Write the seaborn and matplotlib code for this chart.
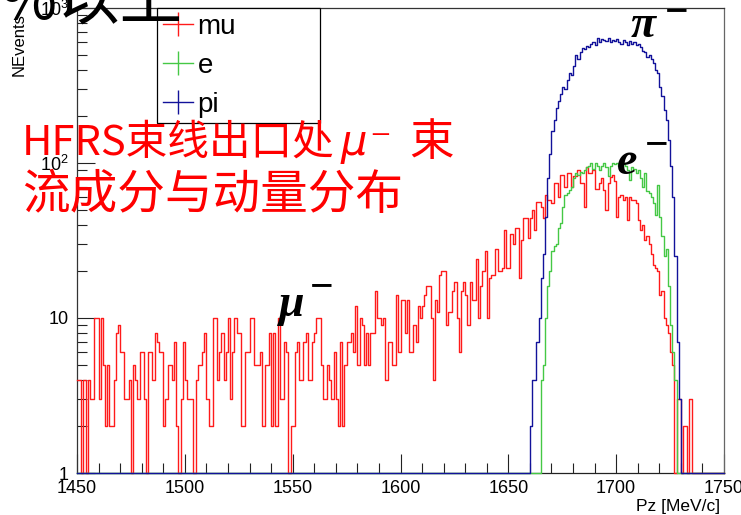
import numpy as np
import pandas as pd
import matplotlib
matplotlib.use("Agg")
import matplotlib.pyplot as plt
from matplotlib.lines import Line2D
from matplotlib.ticker import MultipleLocator, FixedLocator, FuncFormatter, LogLocator, NullFormatter
import seaborn as sns

# ---- binning: 1 MeV/c bins over the Pz window ----
pz_min, pz_max, bin_width = 1450, 1750, 1

# mu- counts per bin, 1450 .. 1749 MeV/c (ten bins per row)
mu_counts = [
    4, 4, 0, 4, 0, 4, 3, 3, 10, 10,
    3, 10, 5, 2, 5, 2, 2, 4, 8, 9,
    6, 6, 3, 3, 4, 0, 5, 4, 3, 6,
    6, 3, 0, 6, 6, 4, 8, 7, 6, 6,
    2, 3, 5, 5, 4, 7, 2, 0, 3, 7,
    4, 3, 3, 3, 0, 4, 5, 5, 6, 8,
    3, 2, 2, 10, 10, 4, 6, 8, 4, 6,
    10, 3, 6, 10, 8, 8, 2, 2, 6, 6,
    10, 10, 5, 5, 5, 6, 2, 5, 5, 8,
    2, 8, 2, 10, 3, 3, 7, 6, 0, 2,
    2, 6, 7, 4, 4, 7, 8, 4, 4, 7,
    8, 10, 10, 5, 3, 3, 5, 4, 3, 6,
    3, 2, 7, 2, 5, 7, 7, 8, 6, 12,
    5, 10, 9, 5, 8, 5, 8, 8, 15, 10,
    10, 9, 10, 4, 7, 7, 5, 5, 14, 6,
    13, 13, 8, 13, 6, 6, 9, 7, 12, 10,
    12, 14, 16, 16, 10, 4, 13, 11, 19, 20,
    20, 9, 11, 11, 15, 17, 10, 6, 15, 17,
    14, 9, 17, 13, 13, 24, 10, 16, 20, 27,
    10, 18, 19, 19, 28, 20, 20, 21, 37, 21,
    21, 35, 30, 38, 38, 18, 32, 44, 44, 33,
    44, 50, 37, 56, 56, 52, 44, 62, 58, 58,
    55, 74, 74, 60, 84, 84, 70, 86, 86, 70,
    82, 82, 90, 74, 74, 52, 94, 86, 86, 90,
    68, 68, 74, 80, 67, 50, 74, 81, 84, 76,
    45, 60, 62, 58, 60, 43, 60, 58, 58, 55,
    43, 37, 40, 32, 34, 30, 26, 22, 21, 20,
    14, 15, 10, 9, 8, 6, 5, 0, 3, 3,
    0, 2, 2, 0, 3, 0, 0, 0, 0, 0,
    0, 0, 0, 0, 0, 0, 0, 0, 0, 0,
]

# e- counts, starting at 1665 MeV/c
e_first_bin = 1665
e_counts = [
    4, 5, 10, 16, 20, 27, 29, 30, 38, 41,
    52, 62, 64, 67, 70, 80, 86, 84, 88, 86,
    90, 94, 96, 100, 92, 100, 96, 90, 96, 100,
    94, 82, 96, 100, 98, 100, 95, 92, 100, 96,
    90, 78, 94, 92, 86, 90, 80, 70, 86, 66,
    64, 60, 55, 46, 72, 45, 34, 25, 28, 16,
    9, 6, 4,
]

# pi- counts, starting at 1660 MeV/c
pi_first_bin = 1660
pi_counts = [
    2, 4, 4, 7, 10, 18, 26, 45, 80, 115,
    160, 190, 225, 250, 280, 310, 300, 345, 380, 370,
    420, 495, 470, 520, 550, 540, 570, 560, 590, 600,
    580, 640, 600, 630, 620, 610, 640, 600, 620, 610,
    630, 600, 590, 620, 600, 580, 610, 590, 600, 580,
    590, 560, 530, 520, 480, 500, 470, 440, 400, 380,
    310, 270, 220, 190, 140, 95, 60, 25, 7, 3,
]

series_names = ["mu", "e", "pi"]
series_colors = ["#ff1a1a", "#45c845", "#12129a"]

x_ticks = [1450, 1500, 1550, 1600, 1650, 1700, 1750]
y_ticks = [1, 10, 100, 1000]
y_tick_labels = ["1", "10", r"$\mathregular{10^{2}}$", r"$\mathregular{10^{3}}$"]

CJK = ["Noto Sans CJK SC", "DejaVu Sans"]
SANS = ["Liberation Sans", "DejaVu Sans"]
SERIF = ["Liberation Serif", "DejaVu Serif"]

# ---- figure ----
W, H = 741, 515
fig = plt.figure(figsize=(W / 100, H / 100), dpi=100)
fig.patch.set_facecolor("white")


def fx(px):
    return px / W


def fy(py):
    return 1 - py / H


ax = fig.add_axes([fx(77), fy(473), fx(724) - fx(77), fy(8) - fy(473)])
ax.set_facecolor("white")

edges = [float(v) for v in np.arange(pz_min, pz_max + bin_width, bin_width)]
centers = np.array(edges[:-1]) + bin_width / 2


def spread(first, values):
    arr = np.zeros(len(centers))
    i = int((first - pz_min) / bin_width)
    arr[i:i + len(values)] = values
    return arr


hists = [np.array(mu_counts, float), spread(e_first_bin, e_counts), spread(pi_first_bin, pi_counts)]

ax.set_yscale("log")
for counts, color, z in zip(hists, series_colors, [3, 4, 5]):
    # empty bins sit on the axis floor, as the log axis cannot show zero
    df = pd.DataFrame({"pz": centers, "n": np.maximum(counts, 1)})
    sns.histplot(data=df, x="pz", weights="n", bins=edges,
                 element="step", fill=False, color=color, linewidth=1.0,
                 ax=ax, clip_on=False, zorder=z)

ax.set_xlim(pz_min, pz_max)
ax.set_ylim(1, 1000)
ax.set_xlabel("")
ax.set_ylabel("")

# ---- ticks ----
ax.xaxis.set_major_locator(FixedLocator(x_ticks))
ax.xaxis.set_minor_locator(MultipleLocator(10))
ax.yaxis.set_major_locator(FixedLocator(y_ticks))
ax.yaxis.set_major_formatter(FuncFormatter(lambda v, p: dict(zip(y_ticks, y_tick_labels)).get(int(round(v)), "")))
ax.yaxis.set_minor_locator(LogLocator(base=10, subs=np.arange(2, 10)))
ax.yaxis.set_minor_formatter(NullFormatter())
ax.tick_params(axis="both", which="both", direction="in", color="#222222", width=0.8,
               top=False, right=False)
ax.tick_params(axis="x", which="major", length=13.5, pad=5, labelsize=13)
ax.tick_params(axis="x", which="minor", length=7)
ax.tick_params(axis="y", which="major", length=13, pad=6, labelsize=13)
ax.tick_params(axis="y", which="minor", length=7)
for lab in ax.get_xticklabels() + ax.get_yticklabels():
    lab.set_fontfamily(SANS)

for side, col in [("left", "#333333"), ("top", "#333333"), ("right", "#666666"), ("bottom", "#222222")]:
    ax.spines[side].set_color(col)
    ax.spines[side].set_linewidth(0.9)

# axis titles
fig.text(fx(720), fy(506), "Pz [MeV/c]", ha="right", va="center", fontsize=12.5, family=SANS)
fig.text(fx(19), fy(13), "NEvents", ha="center", va="top", rotation=90, fontsize=12, family=SANS)

# ---- legend ----
handles = [Line2D([], [], color=c, lw=1.0, marker="|", markersize=17, markeredgewidth=1.0)
           for c in series_colors]
leg = ax.legend(handles, series_names, loc="upper left",
                bbox_to_anchor=(fx(157), fy(123), fx(320) - fx(157), fy(8) - fy(123)),
                bbox_transform=fig.transFigure, mode="expand", borderaxespad=0,
                prop={"family": SANS, "size": 20}, frameon=True, fancybox=False,
                framealpha=1, edgecolor="black", handlelength=1.08, handletextpad=0.18,
                borderpad=0.2, labelspacing=0.47, numpoints=1)
leg.get_frame().set_linewidth(0.9)
leg.set_zorder(10)

# ---- annotations ----
renderer = fig.canvas.get_renderer()


def chain(parts, x0, baseline, color):
    x = x0
    for s, kw, dx in parts:
        x += dx
        t = fig.text(fx(x), fy(baseline), s, ha="left", va="baseline", color=color, **kw)
        x = t.get_window_extent(renderer).x1


red = "#ff0000"
chain([("HFRS束线出口处", dict(family=CJK, fontsize=30), 0),
       ("μ", dict(family=["DejaVu Sans"], style="italic", fontsize=30), 6),
       ("⁻", dict(family=["DejaVu Sans"], fontsize=30), 2),
       ("束", dict(family=CJK, fontsize=32), 18)], 22, 155, red)
fig.text(fx(22), fy(209), "流成分与动量分布", ha="left", va="baseline",
         color=red, family=CJK, fontsize=34.3)

# heading running off the top edge
fig.text(fx(182), fy(19), "50%以上", ha="right", va="baseline", color="black",
         family=CJK, fontsize=45)

# particle tags
tag = dict(family=SERIF, fontsize=33, weight="bold", style="italic", color="black")
minus = dict(family=SERIF, fontsize=30, weight="bold", color="black")
fig.text(fx(631), fy(37), "π", ha="left", va="baseline", **tag)
fig.text(fx(665), fy(13), "−", ha="left", va="center", **minus)
fig.text(fx(617), fy(174), "e", ha="left", va="baseline", **tag)
fig.text(fx(645), fy(146), "−", ha="left", va="center", **minus)
fig.text(fx(279), fy(316), "μ", ha="left", va="baseline", **tag)
fig.text(fx(310), fy(288), "−", ha="left", va="center", **minus)

fig.savefig("out.png", dpi=100, facecolor="white")
